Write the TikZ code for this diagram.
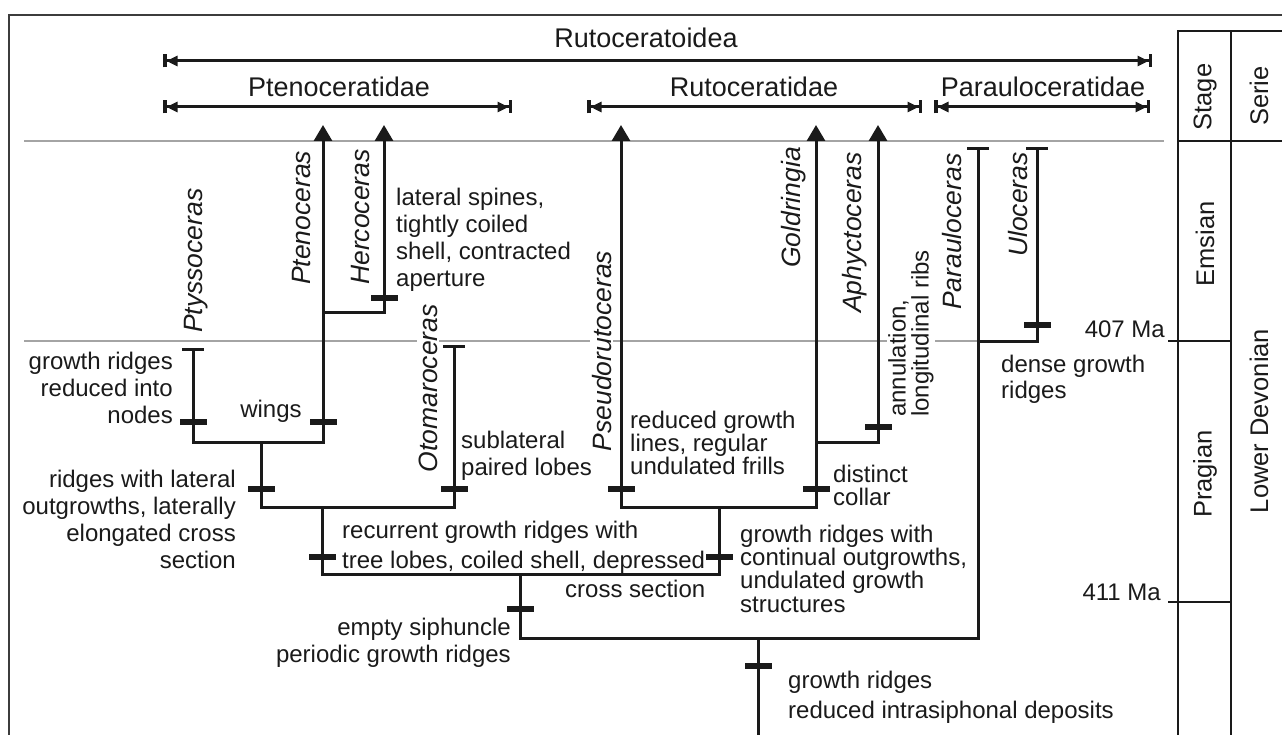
\documentclass[tikz,border=0pt]{standalone}
\usepackage{fontspec}
\setmainfont{Liberation Sans}
\usetikzlibrary{arrows.meta}
\definecolor{ink}{HTML}{1A1A1A}
\definecolor{grid}{HTML}{A4A4A4}
\tikzset{
  uptip/.tip={Triangle[width=18pt,length=16pt]},
  teeend/.tip={Bar[width=22pt]}
}
\begin{document}
\begin{tikzpicture}[x=1pt,y=-1pt,
  br/.style={draw=ink,line width=3pt,line join=miter,line cap=butt},
  tbl/.style={draw=ink,line width=2.5pt},
  gry/.style={draw=grid,line width=1.6pt},
  rng/.style={draw=ink,line width=3pt,
     {Bar[width=13pt,line width=3.5pt] Triangle[width=10pt,length=11pt,sep=0pt]}-{Triangle[width=10pt,length=11pt,sep=0pt] Bar[width=13pt,line width=3.5pt]}},
  tk/.style={fill=ink,draw=none,minimum width=27pt,minimum height=6pt,inner sep=0pt},
  ttl/.style={text=ink,inner sep=0pt,anchor=base,font=\fontsize{27}{30}\selectfont},
  lbA/.style={text=ink,inner sep=0pt,font=\fontsize{24}{27}\selectfont},
  lbB/.style={text=ink,inner sep=0pt,font=\fontsize{24}{23.2}\selectfont},
  lbC/.style={text=ink,inner sep=0pt,font=\fontsize{24}{29.5}\selectfont},
  taxon/.style={text=ink,rotate=90,anchor=base west,inner sep=0pt,font=\fontsize{26.5}{30}\selectfont\itshape},
  wtaxon/.style={taxon,fill=white,inner sep=1.5pt},
  col/.style={text=ink,rotate=90,inner sep=0pt,font=\fontsize{25.5}{30}\selectfont}
]
\useasboundingbox (0,0) rectangle (1282,735);
% frame
\draw[draw=ink!85,line width=1.5pt] (9,735) -- (9,15) -- (1282,15);
% grey time lines
\draw[gry] (24,141) -- (1164,141);
\draw[gry] (24,341) -- (978,341);
% stratigraphic table
\draw[tbl] (1178,736) -- (1178,31) -- (1283,31);
\draw[tbl] (1231,31) -- (1231,736);
\draw[tbl] (1178,141) -- (1283,141);
\draw[tbl] (1168,341) -- (1231,341);
\draw[tbl] (1168,602) -- (1231,602);
\node[col] (stage) at (1205,97) {Stage};
\node[col] (serie) at (1259,96) {Serie};
\node[col] (emsian) at (1205,244) {Emsian};
\node[col] (pragian) at (1205,474) {Pragian};
\node[col] (lowdev) at (1259,421) {Lower Devonian};
\node[lbA,anchor=base east] (ma407) at (1165,337) {407 Ma};
\node[lbA,anchor=base east] (ma411) at (1161,600) {411 Ma};
% range arrows and titles
\coordinate (rA) at (163,61); \coordinate (rB) at (1152,61);
\coordinate (pA) at (163,107); \coordinate (pB) at (512,107);
\coordinate (uA) at (587,107); \coordinate (uB) at (922,107);
\coordinate (qA) at (934,107); \coordinate (qB) at (1150,107);
\draw[rng] (rA) -- (rB);
\draw[rng] (pA) -- (pB);
\draw[rng] (uA) -- (uB);
\draw[rng] (qA) -- (qB);
\node[ttl] (t1) at (646,48) {Rutoceratoidea};
\node[ttl] (t2) at (339,97) {Ptenoceratidae};
\node[ttl] (t3) at (754,97) {Rutoceratidae};
\node[ttl] (t4) at (1043,97) {Parauloceratidae};
% tree coordinates
\coordinate (ptyT) at (193,348); \coordinate (ptyB) at (193,442);
\coordinate (ptnT) at (323,125); \coordinate (ptnB) at (323,442);
\coordinate (herT) at (384,125); \coordinate (herB) at (384,312);
\coordinate (ptnH) at (323,312);
\coordinate (n1) at (261,442); \coordinate (n1b) at (261,507);
\coordinate (otoT) at (454,345); \coordinate (otoB) at (454,507);
\coordinate (n2) at (322,507); \coordinate (n2b) at (322,574);
\coordinate (psT) at (621,125); \coordinate (psB) at (621,507);
\coordinate (goT) at (816,125); \coordinate (goB) at (816,507);
\coordinate (goH) at (816,442);
\coordinate (apT) at (878,125); \coordinate (apB) at (878,442);
\coordinate (n3) at (719,507); \coordinate (n3b) at (719,574);
\coordinate (n4) at (520,574); \coordinate (n4b) at (520,638);
\coordinate (paT) at (978,147); \coordinate (paB) at (978,638);
\coordinate (paH) at (978,341);
\coordinate (ulT) at (1037,147); \coordinate (ulB) at (1037,341);
\coordinate (root) at (758,638); \coordinate (rootB) at (758,740);
% taxon labels
\node[taxon] (lpty) at (202,333) {Ptyssoceras};
\node[taxon] (lptn) at (310,285) {Ptenoceras};
\node[taxon] (lher) at (369,285) {Hercoceras};
\node[wtaxon] (loto) at (437,474) {Otomaroceras};
\node[wtaxon] (lpse) at (611,453) {Pseudorutoceras};
\node[taxon] (lgol) at (800,268) {Goldringia};
\node[taxon] (laph) at (861,313) {Aphyctoceras};
\node[taxon] (lpar) at (961,310) {Parauloceras};
\node[taxon] (lulo) at (1027,257) {Uloceras};
\node[text=ink,rotate=90,anchor=north west,align=left,fill=white,inner sep=1pt,
      font=\fontsize{24}{23}\selectfont] (lann) at (887,418) {annulation,\\longitudinal ribs};
% branches
\draw[br,{teeend}-{uptip}] (ptyT) -- (ptyB) -- (ptnB) -- (ptnT);
\draw[br,-{uptip}] (ptnH) -- (herB) -- (herT);
\draw[br,-{teeend}] (n1) -- (n1b) -- (otoB) -- (otoT);
\draw[br] (n2) -- (n2b) -- (n3b) -- (n3);
\draw[br,{uptip}-{uptip}] (psT) -- (psB) -- (goB) -- (goT);
\draw[br,-{uptip}] (goH) -- (apB) -- (apT);
\draw[br,-{teeend}] (n4) -- (n4b) -- (paB) -- (paT);
\draw[br,-{teeend}] (paH) -- (ulB) -- (ulT);
\draw[br] (root) -- (rootB);
% character ticks
\node[tk] (k1) at (193,422) {};
\node[tk] (k2) at (323,422) {};
\node[tk] (k3) at (384,298) {};
\node[tk] (k4) at (261,489) {};
\node[tk] (k5) at (454,489) {};
\node[tk] (k6) at (322,557) {};
\node[tk] (k7) at (621,489) {};
\node[tk] (k8) at (816,489) {};
\node[tk] (k9) at (878,427) {};
\node[tk] (k10) at (719,557) {};
\node[tk] (k11) at (520,609) {};
\node[tk] (k12) at (1037,325) {};
\node[tk] (k13) at (758,666) {};
% character texts
\node[lbA,anchor=north west,align=left] (c1) at (396,188) {lateral spines,\\tightly coiled\\shell, contracted\\aperture};
\node[lbA,anchor=north east,align=right] (c2) at (173,352) {growth ridges\\reduced into\\nodes};
\node[lbA,anchor=base] (c3) at (271,417) {wings};
\node[lbA,anchor=north west,align=left] (c4) at (461,431) {sublateral\\paired lobes};
\node[lbA,anchor=north east,align=right] (c5) at (236,470) {ridges with lateral\\outgrowths, laterally\\elongated cross\\section};
\node[lbC,anchor=north west,align=left] (c6) at (342,521) {recurrent growth ridges with\\tree lobes, coiled shell, depressed};
\node[lbA,anchor=base west] (c7) at (565,597) {cross section};
\node[lbA,anchor=north east,align=right] (c8) at (511,618) {empty siphuncle\\periodic growth ridges};
\node[lbB,anchor=north west,align=left] (c9) at (630,411) {reduced growth\\lines, regular\\undulated frills};
\node[lbB,anchor=north west,align=left] (c10) at (833,465) {distinct\\collar};
\node[lbB,anchor=north west,align=left] (c11) at (740,525) {growth ridges with\\continual outgrowths,\\undulated growth\\structures};
\node[lbA,anchor=north west,align=left,font=\fontsize{24}{30}\selectfont] (c12) at (788,671) {growth ridges\\reduced intrasiphonal deposits};
\node[lbA,anchor=north west,align=left,font=\fontsize{24}{26}\selectfont] (c13) at (1001,355) {dense growth\\ridges};
\end{tikzpicture}
\end{document}
